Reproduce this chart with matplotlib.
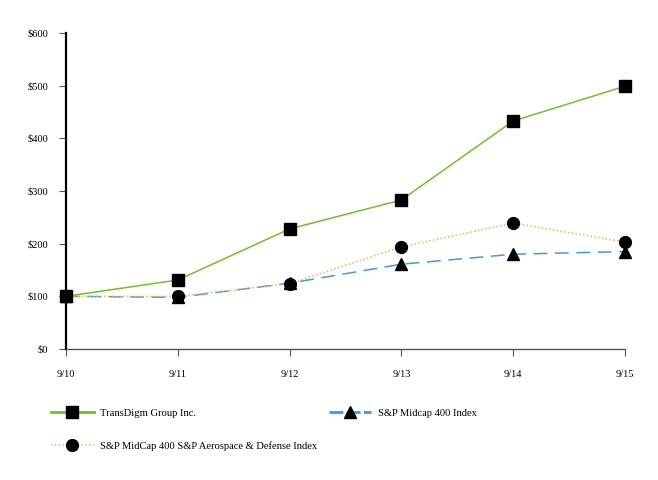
import matplotlib
matplotlib.use("Agg")
import matplotlib.pyplot as plt
from matplotlib.ticker import FuncFormatter

periods = ["9/10", "9/11", "9/12", "9/13", "9/14", "9/15"]
transdigm = [100, 131, 228, 283, 433, 499]
midcap400 = [100, 98, 125, 161, 180, 185]
aero_def = [100, 100, 124, 194, 239, 203]
yticks = [0, 100, 200, 300, 400, 500, 600]

plt.rcParams['font.family'] = ['Liberation Serif', 'DejaVu Serif']

fig = plt.figure(figsize=(6.58, 4.80), dpi=100)
ax = fig.add_axes([66/658, 1-349/480, (625-66)/658, (349-33)/480])

x = list(range(len(periods)))
l1, = ax.plot(x, transdigm, color="#72c02c", lw=1.1, marker="s", ms=8.5,
              mfc="black", mec="black", label="TransDigm Group Inc.", zorder=3, clip_on=False)
l2, = ax.plot(x, midcap400, color="#3d9be0", lw=1.1, ls=(0, (9, 5)), marker="^", ms=8.5,
              mfc="black", mec="black", label="S&P Midcap 400 Index", zorder=3, clip_on=False)
l3, = ax.plot(x, aero_def, color="#f0b24a", lw=1.1, ls=(0, (1, 1.5)), marker="o", ms=8.5,
              mfc="black", mec="black", label="S&P MidCap 400 S&P Aerospace & Defense Index",
              zorder=3, clip_on=False)

ax.set_xlim(0, len(periods) - 1)
ax.set_ylim(0, 600)
ax.set_yticks(yticks)
ax.yaxis.set_major_formatter(FuncFormatter(lambda v, p: f"${int(v)}"))
ax.set_xticks(x)
ax.set_xticklabels(periods)

for s in ["top", "right"]:
    ax.spines[s].set_visible(False)
ax.spines["left"].set_linewidth(1.6)
ax.spines["left"].set_color("black")
ax.spines["bottom"].set_linewidth(1.0)
ax.spines["bottom"].set_color("#555555")
ax.tick_params(axis="y", direction="out", length=5, width=0.8, color="#555555",
               labelsize=7.5, pad=8)
ax.tick_params(axis="x", direction="out", length=5, width=0.8, color="#555555",
               labelsize=7.5, pad=10)
ax.set_facecolor("white")

leg = fig.legend(handles=[l1, l3, l2], loc="upper left",
                 bbox_to_anchor=(46/658, 1-403/480), ncol=2, frameon=False,
                 fontsize=7.6, handlelength=4.0, handletextpad=0.65,
                 columnspacing=1.1, labelspacing=2.25, borderpad=0, markerscale=1.0)
hs = leg.legend_handles
hs[0].set_linewidth(2.0)
hs[2].set_linewidth(2.0)
hs[2].set_linestyle((0, (5, 1.2)))

fig.savefig("out.png", dpi=100, facecolor="white")
